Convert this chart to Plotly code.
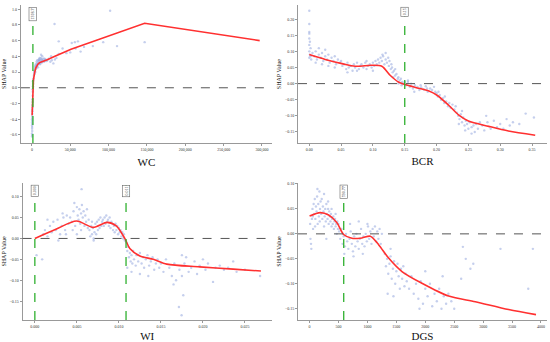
import plotly.graph_objects as go
from plotly.subplots import make_subplots

# ---------------- data ----------------
wc_pts_x = [200,300,150,400,250,350,200,500,300,450,250,600,350,500,700,400,800,600,900,700,1000,1200,900,1400,1600,1300,1800,2000,
            2500,3000,2800,3500,4000,3800,4500,5000,5500,4800,6000,6500,7000,7500,8000,8500,9000,9500,10000,10500,11000,11500,12000,
            12500,13000,13500,14000,15000,16000,17000,18000,19000,20000,22000,24000,26000,28000,30000,8000,9000,10000,12000,7000,6000,
            11000,13000,15000,16500,5000,4000,3000,
            29500,102000,35000,50000,52000,56000,60000,63500,79500,93000,111000,147000,35000,45000,40000,57000,68000,25000,32000]
wc_pts_y = [-0.62,-0.6,-0.58,-0.55,-0.52,-0.5,-0.48,-0.46,-0.44,-0.42,-0.4,-0.38,-0.36,-0.33,-0.3,-0.28,-0.25,-0.22,-0.18,-0.15,-0.1,-0.05,-0.02,0.02,0.05,0.08,0.1,0.12,
            0.15,0.17,0.2,0.18,0.22,0.25,0.2,0.24,0.27,0.28,0.25,0.3,0.28,0.32,0.3,0.34,0.31,0.36,0.33,0.3,0.35,0.38,0.33,
            0.36,0.32,0.4,0.34,0.37,0.33,0.35,0.36,0.34,0.35,0.37,0.33,0.35,0.31,0.36,0.26,0.36,0.38,0.42,0.35,0.33,
            0.31,0.36,0.34,0.37,0.3,0.27,0.22,
            0.81,0.98,0.59,0.45,0.57,0.58,0.59,0.46,0.53,0.58,0.53,0.58,0.43,0.44,0.5,0.5,0.52,0.4,0.38]
wc_fit_x = [300, 600, 1000, 1300, 2000, 3500, 5000, 7800, 10000, 14000, 20000, 30000, 51000, 147000, 297000]
wc_fit_y = [-0.35, -0.2, -0.05, 0.0, 0.1, 0.19, 0.25, 0.30, 0.32, 0.335, 0.355, 0.40, 0.49, 0.82, 0.60]
wc_thr = 1300
wc_label = "1318.7"

bcr_pts_x = [0,0,0,0,0,0.001,0,0.002,0,0.001,0.002,0,0.003,
             0.005,0.008,0.01,0.012,0.015,0.018,0.02,0.022,0.025,0.028,0.03,0.032,0.035,0.038,0.04,0.042,0.045,0.048,0.01,0.02,0.03,0.04,0.015,0.025,
             0.05,0.052,0.055,0.058,0.06,0.062,0.065,0.068,0.07,0.072,0.075,0.078,0.08,0.082,0.085,0.088,0.09,0.092,0.095,0.098,0.1,0.102,0.104,0.106,0.108,0.11,0.06,0.075,0.09,0.1,
             0.112,0.114,0.116,0.118,0.12,0.122,0.124,0.125,0.126,0.128,0.129,0.13,0.115,0.12,
             0.131,0.133,0.135,0.137,0.139,0.14,0.142,0.144,0.146,0.148,0.15,0.135,0.14,0.145,0.132,
             0.152,0.155,0.158,0.16,0.163,0.166,0.17,0.173,0.176,0.18,0.183,0.186,0.19,0.193,0.196,0.198,0.155,0.165,0.175,0.185,
             0.2,0.202,0.205,0.207,0.21,0.212,0.215,0.218,0.22,0.222,0.225,0.228,0.23,0.203,0.213,
             0.232,0.234,0.236,0.238,0.24,0.242,0.244,0.246,0.248,0.25,0.252,0.255,0.258,0.26,0.262,0.265,0.268,0.235,0.245,0.255,0.24,
             0.272,0.275,0.28,0.285,0.29,0.295,0.3,0.305,0.31,0.315,0.32,0.33,0.34,0.353,0.278]
bcr_pts_y = [0.226,0.185,0.16,0.155,0.14,0.13,0.12,0.11,0.1,0.09,0.085,0.08,0.075,
             0.095,0.085,0.1,0.075,0.09,0.08,0.095,0.07,0.085,0.075,0.09,0.065,0.08,0.07,0.085,0.06,0.075,0.065,0.065,0.06,0.055,0.05,0.11,0.105,
             0.07,0.055,0.06,0.045,0.065,0.05,0.055,0.04,0.06,0.05,0.065,0.045,0.055,0.06,0.05,0.065,0.045,0.055,0.06,0.05,0.065,0.055,0.07,0.06,0.075,0.065,0.035,0.04,0.07,0.04,
             0.08,0.07,0.085,0.06,0.075,0.065,0.08,0.055,0.07,0.045,0.06,0.05,0.09,0.095,
             0.035,0.04,0.025,0.03,0.015,0.02,0.01,0.015,0.005,0.0,0.005,0.045,0.0,-0.005,0.02,
             -0.005,0.005,-0.01,0.0,-0.015,-0.005,-0.01,-0.02,-0.012,-0.018,-0.008,-0.025,-0.015,-0.02,-0.01,-0.025,0.01,-0.025,-0.005,-0.015,
             -0.03,-0.04,-0.035,-0.05,-0.045,-0.06,-0.055,-0.07,-0.06,-0.075,-0.065,-0.08,-0.07,-0.025,-0.04,
             -0.09,-0.1,-0.11,-0.095,-0.12,-0.105,-0.13,-0.115,-0.125,-0.14,-0.12,-0.135,-0.13,-0.15,-0.125,-0.14,-0.12,-0.125,-0.145,-0.155,-0.085,
             -0.13,-0.145,-0.12,-0.14,-0.115,-0.135,-0.125,-0.14,-0.11,-0.13,-0.12,-0.125,-0.093,-0.105,-0.1]
bcr_fit_x = [0.0, 0.025, 0.0514, 0.0723, 0.0985, 0.114, 0.127, 0.140, 0.151, 0.167, 0.188, 0.2007, 0.219, 0.235, 0.250, 0.282, 0.313, 0.355]
bcr_fit_y = [0.090, 0.075, 0.062, 0.054, 0.057, 0.054, 0.026, 0.005, -0.003, -0.012, -0.023, -0.036, -0.067, -0.098, -0.116, -0.1325, -0.147, -0.160]
bcr_thr = 0.15
bcr_label = "0.15"

wi_pts_x = [0.0002,0.00087,
            0.001,0.0012,0.0015,0.0018,0.002,0.0022,0.0025,0.0027,0.003,0.0032,0.0034,0.0036,0.0038,0.004,0.0015,0.0028,0.0033,0.0037,
            0.0042,0.0044,0.0046,0.0048,0.005,0.0051,0.0052,0.0053,0.0054,0.0055,0.00556,0.0056,0.0057,0.0058,0.0059,0.006,0.0061,0.0062,0.0063,0.0064,0.0045,0.005,0.0055,0.0047,
            0.0065,0.0066,0.0067,0.0068,0.0069,0.007,0.0071,0.0072,0.0073,0.0074,0.0075,0.0076,0.0077,0.0078,0.0079,0.008,0.0068,0.007,
            0.0081,0.0082,0.0083,0.0084,0.0085,0.0086,0.0087,0.0088,0.0089,0.009,0.0091,0.0092,0.0093,0.0094,0.0095,0.0096,0.0097,0.0098,0.0099,0.01,0.0101,0.0102,0.0103,0.0104,0.0105,0.0106,0.0107,
            0.0109,0.011,0.0111,0.0112,0.0113,0.0114,0.0115,0.0116,0.0117,0.0118,0.012,0.0121,0.0123,0.0125,0.0127,0.0129,0.013,0.0132,0.0134,0.0136,0.0138,0.014,0.0142,0.0144,0.0146,0.0148,0.0115,0.0125,0.0135,0.011,
            0.015,0.0153,0.0156,0.016,0.0163,0.0166,0.0168,0.01714,0.01746,0.01766,0.0172,0.0175,0.0178,0.018,0.0183,0.0186,0.019,0.0193,0.0196,0.02,0.0203,0.0206,0.0212,0.0215,0.022,0.0225,0.023,0.0236,0.024,0.025,0.0268,0.0175,0.0165]
wi_pts_y = [-0.04,-0.05,
            0.01,0.02,0.005,0.03,0.015,0.04,0.02,0.045,0.01,0.03,0.05,0.02,0.055,0.035,0.045,-0.005,0.06,0.01,
            0.05,0.04,0.065,0.03,0.075,0.055,0.045,0.07,0.035,0.06,0.118,0.08,0.05,0.065,0.03,0.055,0.04,0.07,0.025,0.045,0.02,0.01,0.02,0.085,
            0.02,0.005,0.03,0.01,0.025,0.0,0.015,0.035,0.01,0.04,0.02,0.045,0.025,0.05,0.03,0.04,0.04,-0.005,
            0.045,0.03,0.05,0.035,0.055,0.04,0.045,0.03,0.05,0.025,0.04,0.035,0.02,0.03,0.015,0.035,0.02,0.03,0.01,0.025,0.015,0.02,0.005,0.015,0.0,0.01,-0.005,
            -0.01,-0.03,-0.02,-0.045,-0.035,-0.055,-0.04,-0.06,-0.03,-0.05,-0.065,-0.04,-0.055,-0.035,-0.06,-0.045,-0.07,-0.05,-0.04,-0.065,-0.055,-0.045,-0.075,-0.06,-0.05,-0.07,-0.08,-0.085,-0.09,-0.07,
            -0.06,-0.08,-0.05,-0.07,-0.09,-0.06,-0.1,-0.164,-0.184,-0.136,-0.075,-0.09,-0.06,-0.045,-0.08,-0.07,-0.055,-0.085,-0.065,-0.05,-0.075,-0.06,-0.104,-0.07,-0.065,-0.075,-0.07,-0.055,-0.08,-0.075,-0.09,-0.04,-0.11]
wi_fit_x = [0.0, 0.0025, 0.00496, 0.00694, 0.0086, 0.00972, 0.0107, 0.0113, 0.0125, 0.0141, 0.0157, 0.0196, 0.0236, 0.0269]
wi_fit_y = [0.0, 0.022, 0.0416, 0.0264, 0.0384, 0.0296, 0.0, -0.024, -0.042, -0.050, -0.0615, -0.068, -0.0735, -0.078]
wi_thr = [0.0, 0.01085]
wi_labels = ["0.000", "0.011"]

dgs_pts_x = [10,15,30,40,50,60,70,80,90,100,110,120,130,140,150,160,170,180,190,200,25,55,95,135,175,
             210,220,230,240,250,260,270,280,290,300,310,320,330,340,350,360,370,380,390,400,410,420,430,440,450,460,470,480,490,500,250,320,380,450,290,
             510,530,550,570,590,610,630,650,670,690,710,730,750,770,790,810,830,850,870,890,910,930,950,970,990,1010,1030,1050,1070,1090,1110,1130,1150,1170,1190,1210,1230,1250,700,850,1000,760,600,920,
             1300,1320,1340,1360,1380,1400,1420,1440,1460,1480,1500,1520,1540,1560,1580,1600,1620,1640,1660,1680,1350,1450,1400,
             1720,1760,1800,1840,1880,1920,1960,2000,2040,2080,2120,2160,2200,2240,2280,2320,2360,2400,2450,2500,1900,2000,2300,
             2650,2700,2780,2830,2620,3300,3860,3780]
dgs_pts_y = [0.02,-0.01,-0.03,0.03,0.05,0.01,0.06,0.04,0.07,0.03,0.055,0.045,0.075,0.02,0.06,0.035,0.085,0.05,0.065,0.04,-0.02,0.035,0.015,0.09,0.025,
             0.07,0.03,0.055,0.045,0.08,0.035,0.05,0.025,0.06,0.04,0.03,0.05,0.02,0.045,0.035,0.025,0.04,0.015,0.03,0.02,0.035,0.01,0.025,0.03,0.015,0.02,0.0,0.025,0.01,0.02,0.015,0.065,0.05,0.04,-0.01,
             0.005,-0.01,0.01,-0.02,-0.005,-0.025,0.0,-0.015,-0.03,-0.01,0.005,-0.02,-0.035,-0.005,-0.025,0.0,-0.015,-0.03,-0.01,0.01,-0.02,-0.005,-0.025,0.0,-0.015,0.015,-0.01,0.005,-0.02,0.01,-0.005,0.015,-0.015,0.005,-0.01,0.01,-0.02,0.0,0.02,0.025,0.02,-0.045,-0.04,-0.04,
             -0.04,-0.065,-0.05,-0.08,-0.06,-0.045,-0.09,-0.07,-0.055,-0.1,-0.075,-0.06,-0.085,-0.11,-0.07,-0.09,-0.065,-0.105,-0.08,-0.095,-0.12,-0.125,-0.03,
             -0.11,-0.085,-0.12,-0.1,-0.13,-0.095,-0.14,-0.11,-0.125,-0.1,-0.145,-0.12,-0.135,-0.11,-0.15,-0.125,-0.14,-0.12,-0.135,-0.15,-0.15,-0.075,-0.085,
             -0.026,-0.05,-0.07,-0.06,-0.09,-0.03,-0.03,-0.11]
dgs_fit_x = [0, 184, 329, 473, 588, 732, 905, 1049, 1193, 1366, 1597, 1942, 2404, 2865, 3441, 3914]
dgs_fit_y = [0.0357, 0.0425, 0.0377, 0.0222, -0.0013, -0.0088, -0.0081, -0.0047, -0.0216, -0.0485, -0.0755, -0.099, -0.1247, -0.136, -0.1517, -0.1618]
dgs_thr = 590
dgs_label = "590.77"

x_titles = ["WC", "BCR", "WI", "DGS"]

# ---------------- figure ----------------
FONT = "Liberation Serif"
PT_COLOR = "rgba(140,160,220,0.5)"
RED = "#ff3030"
GREEN = "#2fb02f"

fig = make_subplots(rows=2, cols=2)

panels = [
    (1, 1, wc_pts_x, wc_pts_y, wc_fit_x, wc_fit_y, "linear"),
    (1, 2, bcr_pts_x, bcr_pts_y, bcr_fit_x, bcr_fit_y, "spline"),
    (2, 1, wi_pts_x, wi_pts_y, wi_fit_x, wi_fit_y, "spline"),
    (2, 2, dgs_pts_x, dgs_pts_y, dgs_fit_x, dgs_fit_y, "spline"),
]
for r, c, px, py, fx, fy, shp in panels:
    fig.add_trace(go.Scatter(x=px, y=py, mode="markers",
                             marker=dict(size=2.4, color=PT_COLOR, line=dict(width=0)),
                             showlegend=False), row=r, col=c)
    fig.add_trace(go.Scatter(x=fx, y=fy, mode="lines", line=dict(color=RED, width=1.6, shape=shp, smoothing=0.8),
                             showlegend=False), row=r, col=c)

domains = {
    1: ([0.038, 0.4945], [0.582, 0.985]),
    2: ([0.5418, 0.9945], [0.582, 0.985]),
    3: ([0.041, 0.4945], [0.064, 0.465]),
    4: ([0.5418, 0.9945], [0.064, 0.465]),
}
xranges = {1: [-14348, 313043], 2: [-0.01776, 0.3735], 3: [-0.001464, 0.028214], 4: [-200.5, 4103.7]}
yranges = {1: [-0.7016, 1.0508], 2: [-0.184, 0.2434], 3: [-0.1955, 0.1328], 4: [-0.1728, 0.102]}
xfmt = {1: dict(dtick=50000, tickformat=",", tick0=0), 2: dict(dtick=0.05, tickformat=".2f", tick0=0),
        3: dict(dtick=0.005, tickformat=".3f", tick0=0), 4: dict(dtick=500, tickformat="d", tick0=0)}
yfmt = {1: dict(dtick=0.2, tickformat=".1f", tick0=0), 2: dict(dtick=0.05, tickformat=".2f", tick0=0),
        3: dict(dtick=0.05, tickformat=".2f", tick0=0), 4: dict(dtick=0.05, tickformat=".2f", tick0=0)}

for i in range(1, 5):
    xa = "xaxis" if i == 1 else f"xaxis{i}"
    ya = "yaxis" if i == 1 else f"yaxis{i}"
    fig.layout[xa].update(domain=domains[i][0], range=xranges[i], showgrid=False, zeroline=False, automargin=False,
                          showline=True, linecolor="#999", linewidth=1, ticks="outside", ticklen=2,
                          tickcolor="#999", tickfont=dict(family=FONT, size=4, color="#333"),
                          title=dict(text=x_titles[i - 1], font=dict(family=FONT, size=11, color="#111"), standoff=6),
                          **xfmt[i])
    fig.layout[ya].update(domain=domains[i][1], range=yranges[i], showgrid=False, zeroline=False, automargin=False,
                          showline=True, linecolor="#999", linewidth=1, ticks="outside", ticklen=2,
                          tickcolor="#999", tickfont=dict(family=FONT, size=4, color="#333"),
                          title=dict(text="SHAP Value", font=dict(family=FONT, size=6, color="#111"), standoff=2),
                          **yfmt[i])

shapes = []
annots = []
refs = {1: ("x", "y"), 2: ("x2", "y2"), 3: ("x3", "y3"), 4: ("x4", "y4")}
for i in range(1, 5):
    xr, yr = refs[i]
    shapes.append(dict(type="line", xref=f"{xr} domain", yref=yr, x0=0, x1=1, y0=0, y1=0,
                       line=dict(color="#555", width=1, dash="dash")))

thr_list = [(1, wc_thr, wc_label), (2, bcr_thr, bcr_label), (3, wi_thr[0], wi_labels[0]),
            (3, wi_thr[1], wi_labels[1]), (4, dgs_thr, dgs_label)]
for i, xv, lab in thr_list:
    xr, yr = refs[i]
    shapes.append(dict(type="line", xref=xr, yref=f"{yr} domain", x0=xv, x1=xv, y0=0, y1=1,
                       line=dict(color=GREEN, width=1.3, dash="dash")))
    annots.append(dict(x=xv, y=0.985, xref=xr, yref=f"{yr} domain", text=lab, showarrow=False,
                       textangle=-90, yanchor="top", xanchor="center",
                       font=dict(family=FONT, size=4, color="#333"),
                       bgcolor="white", bordercolor="#666", borderwidth=0.6, borderpad=1))

fig.update_layout(width=550, height=342, margin=dict(l=0, r=0, t=0, b=0, autoexpand=False),
                  paper_bgcolor="white", plot_bgcolor="white",
                  shapes=shapes, annotations=annots, showlegend=False)

fig.write_html("out.html", config={"displayModeBar": False},
               post_script="document.body.style.margin='0px';document.body.style.padding='0px';")
